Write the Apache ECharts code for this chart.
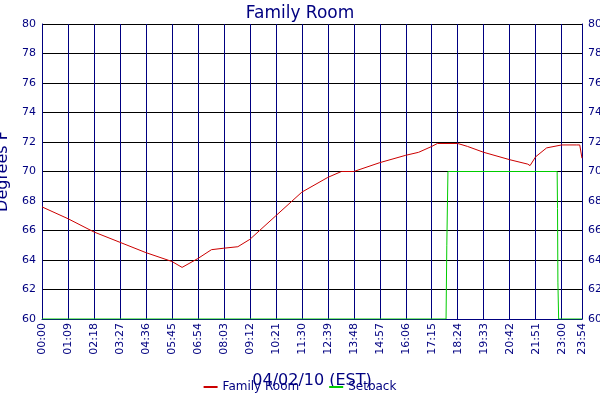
<!DOCTYPE html>
<html><head><meta charset="utf-8">
<script src="https://cdn.jsdelivr.net/npm/echarts@6/dist/echarts.min.js"></script>
<style>html,body{margin:0;padding:0;background:#fff}#c{width:600px;height:400px}</style>
</head><body><div id="c"></div>
<script>
const roomMinutes = [0,69,138,207,276,345,372,414,450,483,520,552,621,690,759,795,828,897,966,1000,1035,1050,1104,1130,1173,1242,1290,1296,1311,1340,1380,1420,1428,1434];
const roomTemps   = [67.6,66.8,65.9,65.2,64.5,63.9,63.5,64.1,64.7,64.8,64.9,65.4,67.0,68.6,69.6,70.0,70.0,70.6,71.1,71.3,71.7,71.9,71.9,71.7,71.3,70.8,70.5,70.4,71.0,71.6,71.8,71.8,71.8,70.9];
const setbackMinutes = [0,1073,1075,1078,1368,1369,1370,1372,1434];
const setbackTemps   = [60,60,65,70,70,67.5,62.5,60,60];
const tickLabels = ["00:00","01:09","02:18","03:27","04:36","05:45","06:54","08:03","09:12","10:21","11:30","12:39","13:48","14:57","16:06","17:15","18:24","19:33","20:42","21:51","23:00"];
const lastLabel = "23:54";
const navy = "#000080";
const zip = (a,b)=>a.map((v,i)=>[v,b[i]]);
const yAx = pos => ({type:'value',position:pos,min:60,max:80,interval:2,
  axisLine:{show:true,lineStyle:{color:navy}},axisTick:{show:false},
  axisLabel:{color:navy,fontSize:11,fontFamily:'DejaVu Sans',margin:6},
  splitLine:{show:pos==='left',lineStyle:{color:'#000',width:1}}});
const chart = echarts.init(document.getElementById('c'));
chart.setOption({
  animation:false,backgroundColor:'#fff',
  title:{text:'Family Room',left:'center',top:0,textStyle:{color:navy,fontSize:17,fontWeight:'normal',fontFamily:'DejaVu Sans'}},
  grid:{left:42,right:18,top:24,bottom:81,containLabel:false,outerBoundsMode:'none'},
  legend:{bottom:2,itemWidth:14,itemHeight:2,itemGap:30,icon:'rect',textStyle:{color:navy,fontSize:12,fontFamily:'DejaVu Sans'},
    data:['Family Room','Setback']},
  xAxis:{type:'value',min:0,max:1434,interval:69,name:'04/02/10 (EST)',nameLocation:'middle',nameGap:54,
    nameTextStyle:{color:navy,fontSize:16,fontFamily:'DejaVu Sans'},
    axisLine:{lineStyle:{color:navy}},axisTick:{show:false},
    axisLabel:{rotate:90,color:navy,fontSize:11,fontFamily:'DejaVu Sans',showMaxLabel:true,margin:4,
      formatter:v=>v>=1434?lastLabel:(tickLabels[Math.round(v/69)]||'')},
    splitLine:{show:true,lineStyle:{color:navy,width:1}}},
  yAxis:[Object.assign(yAx('left'),{name:'Degrees F',nameLocation:'middle',nameGap:26,
    nameTextStyle:{color:navy,fontSize:16,fontFamily:'DejaVu Sans'}}),yAx('right')],
  series:[
    {name:'Family Room',type:'line',data:zip(roomMinutes,roomTemps),showSymbol:false,lineStyle:{color:'#cc0000',width:1},itemStyle:{color:'#cc0000'}},
    {name:'Setback',type:'line',data:zip(setbackMinutes,setbackTemps),showSymbol:false,lineStyle:{color:'#00cc00',width:1},itemStyle:{color:'#00cc00'}}
  ]
});
</script></body></html>
